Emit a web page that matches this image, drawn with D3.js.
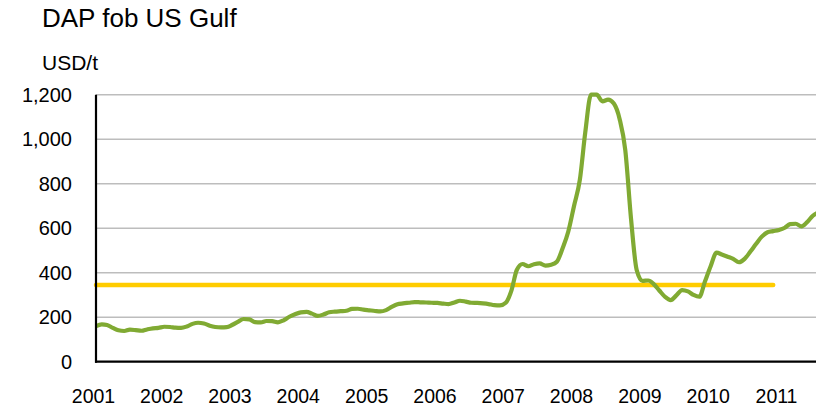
<!DOCTYPE html>
<html>
<head>
<meta charset="utf-8">
<script src="https://cdn.jsdelivr.net/npm/d3@7"></script>
<style>
  body { margin: 0; background: #fff; }
  svg { display: block; font-family: "Liberation Sans", Arial, sans-serif; }
  .title { font-size: 26px; fill: #000; }
  .unit { font-size: 21px; fill: #000; }
  .ytick { font-size: 20px; fill: #000; }
  .xtick { font-size: 19.5px; fill: #000; }
  .grid { stroke: #bdbdbd; stroke-width: 1.4; }
  .axis { stroke: #000; stroke-width: 2.2; }
  .price { fill: none; stroke: #80aa33; stroke-width: 4.2; stroke-linejoin: round; }
  .average { fill: none; stroke: #ffcc00; stroke-width: 4.5; stroke-linecap: round; }
</style>
</head>
<body>
<svg id="gfx" width="816" height="409"></svg>
<script>
// monthly DAP fob US Gulf, USD/t, from Jan 2001
var firstMonth = new Date(2001, 0, 1);
var dapPrices = [
    160, 168, 165, 152, 141, 138, 144, 142, 139, 145, 150, 152,
    157, 156, 153, 152, 158, 170, 175, 172, 162, 156, 154, 155,
    166, 180, 192, 190, 178, 177, 183, 182, 177, 186, 202, 213,
    222, 224, 216, 206, 212, 222, 225, 227, 229, 237, 238, 234,
    231, 228, 226, 232, 246, 258, 262, 265, 268, 267, 266, 265,
    264, 261, 259, 266, 274, 270, 265, 264, 262, 259, 254, 253,
    265, 322, 412, 439, 429, 438, 442, 432, 436, 449, 510, 584,
    700, 817, 1030, 1200, 1200, 1170, 1178, 1160, 1090, 951, 640, 412,
    363, 365, 350, 320, 292, 277, 298, 322, 316, 300, 292, 360,
    430, 490, 482, 472, 462, 447, 462, 495, 530, 562, 582, 587,
    592, 602, 618, 620, 608, 628, 656, 672
];

// long-run average line, Jan 2001 to Dec 2010
var averagePrice = 345;
var averageSpan = [new Date(2001, 0, 1), new Date(2010, 11, 1)];

var yTicks = [0, 200, 400, 600, 800, 1000, 1200];
var yearLabels = [2001, 2002, 2003, 2004, 2005, 2006, 2007, 2008, 2009, 2010, 2011];

function draw() {
    var svg = d3.select("#gfx");

    var x = d3.scaleTime()
        .domain([new Date(2001, 0, 1), new Date(2011, 0, 1)])
        .range([96, 779]);
    var y = d3.scaleLinear()
        .domain([0, 1200])
        .range([361.7, 94.7]);

    var points = dapPrices.map((v, i) => ({ date: d3.timeMonth.offset(firstMonth, i), value: v }));

    svg.append("text").attr("class", "title")
        .attr("x", 42).attr("y", 27)
        .text("DAP fob US Gulf");

    svg.append("text").attr("class", "unit")
        .attr("x", 42).attr("y", 70)
        .text("USD/t");

    // gridlines
    svg.append("g").selectAll("line")
        .data(yTicks.filter(d => d > 0))
        .enter().append("line")
        .attr("class", "grid")
        .attr("x1", 96).attr("x2", 816)
        .attr("y1", d => y(d)).attr("y2", d => y(d));

    svg.append("g").selectAll("text")
        .data(yTicks)
        .enter().append("text")
        .attr("class", "ytick")
        .attr("x", 72)
        .attr("y", d => y(d))
        .attr("dy", "0.35em")
        .attr("text-anchor", "end")
        .text(d => d3.format(",")(d));

    svg.append("g").selectAll("text")
        .data(yearLabels)
        .enter().append("text")
        .attr("class", "xtick")
        .attr("x", d => x(new Date(d, 0, 1)) - 2.5)
        .attr("y", 403)
        .attr("text-anchor", "middle")
        .text(d => d);

    svg.append("line").attr("class", "average")
        .attr("x1", x(averageSpan[0])).attr("x2", x(averageSpan[1]))
        .attr("y1", y(averagePrice)).attr("y2", y(averagePrice));

    var line = d3.line()
        .x(d => x(d.date))
        .y(d => y(d.value))
        .curve(d3.curveMonotoneX);

    svg.append("path").attr("class", "price")
        .attr("d", line(points));

    // axes on top
    svg.append("line").attr("class", "axis")
        .attr("x1", 96).attr("x2", 96)
        .attr("y1", y(1200)).attr("y2", y(0) + 1);
    svg.append("line").attr("class", "axis")
        .attr("x1", 95).attr("x2", 816)
        .attr("y1", y(0)).attr("y2", y(0));
}

draw();
</script>
</body>
</html>
